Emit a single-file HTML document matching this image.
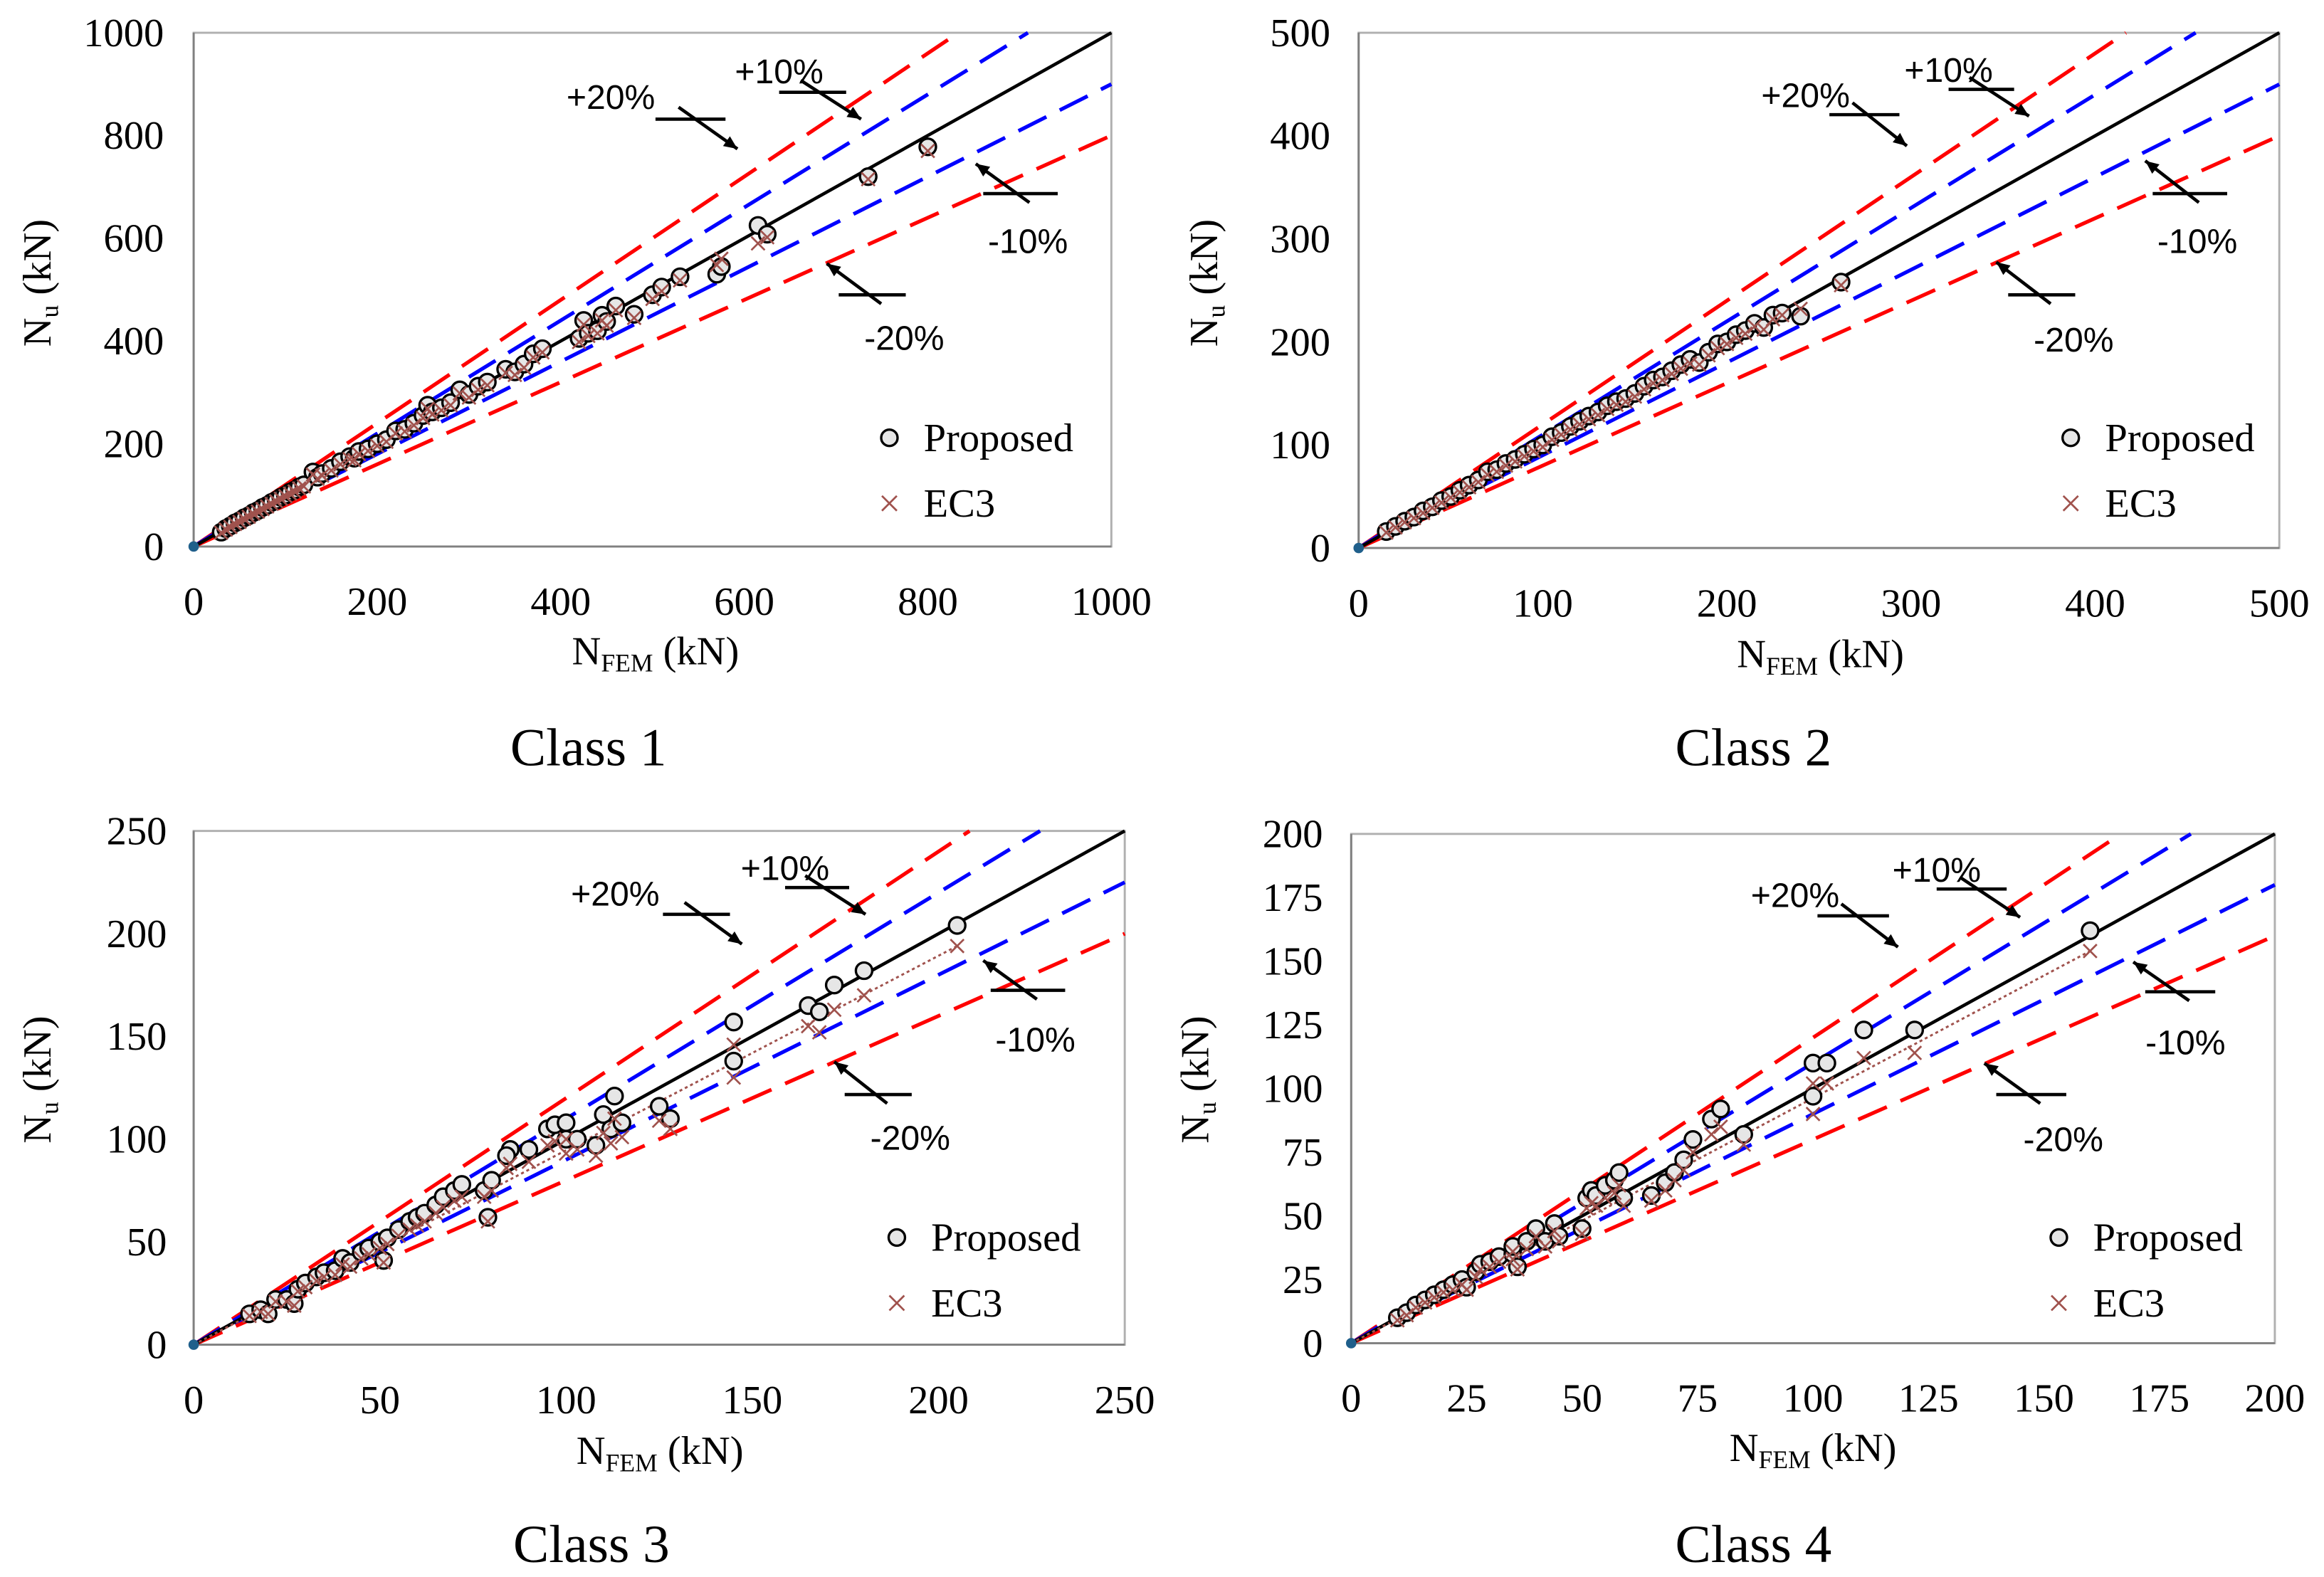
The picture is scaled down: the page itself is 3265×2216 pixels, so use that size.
<!DOCTYPE html>
<html><head><meta charset="utf-8"><style>
html,body{margin:0;padding:0;background:#fff;}
svg{display:block;}
</style></head><body>
<svg id="fig" xmlns="http://www.w3.org/2000/svg" width="3265" height="2216" viewBox="0 0 1560 1059" preserveAspectRatio="none">
<rect x="0" y="0" width="1560" height="1059" fill="#fff"/>
</svg>
<script>
// ---------- DATA ----------
const p1Ticks = [0,200,400,600,800,1000];
const p1Fem  = [30,35,40,45,50,55,60,65,70,75,80,85,90,95,100,105,110,115,120,130,135,140,150,160,170,175,180,190,200,210,220,230,240,250,255,260,270,280,290,300,310,320,340,350,360,370,380,420,425,430,440,445,450,460,480,500,510,530,570,575,615,625,735,800];
const p1Prop = [28,35,40,46,50,56,60,66,70,76,80,86,90,96,100,106,110,116,120,145,135,142,152,165,175,172,185,190,200,208,225,228,240,255,275,262,270,280,305,296,312,320,345,340,355,375,385,405,440,415,420,450,438,468,452,490,505,525,530,545,625,608,720,778];
const p1Ec3  = [27,33,38,44,48,54,58,64,68,73,78,83,88,93,98,103,107,113,117,140,132,138,148,160,170,168,180,186,196,204,220,224,236,250,268,257,265,275,298,290,305,314,338,334,348,368,378,398,432,410,415,440,430,460,445,482,497,518,548,560,590,602,715,770];

const p2Ticks = [0,100,200,300,400,500];
const p2Fem  = [15,20,25,30,35,40,45,50,55,60,65,70,75,80,85,90,95,100,105,110,115,120,125,130,135,140,145,150,155,160,165,170,175,180,185,190,195,200,205,210,215,220,225,230,240,262];
const p2Prop = [16,21,26,30,36,40,46,50,56,61,66,74,76,82,86,91,96,100,108,112,118,123,128,132,138,142,145,150,157,163,166,172,178,183,180,190,198,200,207,211,218,214,226,228,225,258];
const p2Ec3  = [15,20,25,29,34,39,44,49,54,59,64,71,74,80,84,89,94,98,105,110,115,120,125,129,135,139,142,147,154,160,163,169,174,179,178,187,194,198,204,208,215,212,222,226,232,255];

const p3Ticks = [0,50,100,150,200,250];
const p3Fem  = [15,18,20,22,25,27,28,30,33,35,38,40,42,45,47,50,51,52,55,58,60,62,65,67,70,72,78,80,79,85,84,90,95,97,100,100,103,108,110,112,113,115,125,128,145,145,165,168,172,180,205];
const p3Prop = [15,17,15,22,22,20,27,30,33,35,36,42,40,45,47,50,41,52,56,60,62,64,68,72,75,78,75,80,62,95,92,95,105,107,100,108,100,97,112,105,121,108,116,110,157,138,165,162,175,182,204];
const p3Ec3  = [14,16,15,21,21,19,26,28,31,33,34,39,38,42,44,47,40,49,53,56,58,60,64,67,70,72,72,75,60,88,86,89,97,99,93,100,95,92,103,98,110,101,109,105,146,130,155,152,163,170,194];

const p4Ticks = [0,25,50,75,100,125,150,175,200];
const p4Fem  = [10,12,14,16,18,20,22,24,25,27,28,30,32,35,35,36,38,40,42,44,45,50,51,52,53,55,57,58,59,65,68,70,72,74,78,80,85,100,100,103,111,122,160];
const p4Prop = [10,12,15,17,19,21,23,25,22,28,31,32,34,35,38,30,40,45,40,47,42,45,57,60,58,62,64,67,57,58,63,67,72,80,88,92,82,97,110,110,123,123,162];
const p4Ec3  = [9,11,14,16,18,20,21,23,21,26,29,30,32,33,36,29,37,42,38,44,40,43,53,55,54,57,59,62,54,56,60,64,68,75,82,85,78,90,102,102,112,114,154];

// ---------- RENDER ----------
const NS = "http://www.w3.org/2000/svg";
const svg = document.getElementById('fig');
function mk(tag, attrs, parent){ const e=document.createElementNS(NS,tag); for(const k in attrs) e.setAttribute(k,attrs[k]); (parent||svg).appendChild(e); return e; }

const panels = [
 {id:'class-1', x0:130, x1:746, yb:367, yt:22, max:1000, ticks:p1Ticks, fem:p1Fem, prop:p1Prop, ec3:p1Ec3, trend:false,
  ylabX:110, xlabY:413, ytitle:[25,190], xtitle:[440,446], cls:[395,514], leg:[597,294],
  ann:[['+20%',410,73,440,487,80,495,100],['+10%',523,56,523,568,62,578,80],['-10%',690,170,660,710,130,655,110],['-20%',607,235,563,608,198,555,177]]},
 {id:'class-2', x0:912, x1:1530, yb:368, yt:22, max:500, ticks:p2Ticks, fem:p2Fem, prop:p2Prop, ec3:p2Ec3, trend:false,
  ylabX:893, xlabY:414, ytitle:[808,190], xtitle:[1222,448], cls:[1177,514], leg:[1390,294],
  ann:[['+20%',1212,72,1228,1275,77,1280,98],['+10%',1308,55,1308,1352,60,1362,78],['-10%',1475,170,1445,1495,130,1440,108],['-20%',1392,236,1348,1393,198,1340,176]]},
 {id:'class-3', x0:130, x1:755, yb:903, yt:558, max:250, ticks:p3Ticks, fem:p3Fem, prop:p3Prop, ec3:p3Ec3, trend:true,
  ylabX:112, xlabY:949, ytitle:[25,725], xtitle:[443,983], cls:[397,1049], leg:[602,831],
  ann:[['+20%',413,608,445,490,614,498,634],['+10%',527,591,527,570,596,581,614],['-10%',695,706,665,715,665,660,645],['-20%',611,772,567,612,735,560,713]]},
 {id:'class-4', x0:907, x1:1527, yb:902, yt:560, max:200, ticks:p4Ticks, fem:p4Fem, prop:p4Prop, ec3:p4Ec3, trend:true,
  ylabX:888, xlabY:948, ytitle:[802,725], xtitle:[1217,981], cls:[1177,1049], leg:[1382,831],
  ann:[['+20%',1205,609,1220,1268,615,1274,636],['+10%',1300,592,1300,1347,597,1356,616],['-10%',1467,708,1440,1487,666,1432,646],['-20%',1385,773,1340,1387,735,1332,714]]}
];

const SERIF = '"Liberation Serif", serif';
const SANS = '"Liberation Sans", sans-serif';

panels.forEach(p=>{
  const g = mk('g',{});
  
  
  const sx = v => p.x0 + (v/p.max)*(p.x1-p.x0);
  const sy = v => p.yb - (v/p.max)*(p.yb-p.yt);

  const fr = mk('rect',{x:p.x0,y:p.yt,width:p.x1-p.x0,height:p.yb-p.yt,fill:'none',stroke:'#b0b0b0','stroke-width':1.4},g);
   
  const ya = mk('line',{x1:p.x0,y1:p.yt,x2:p.x0,y2:p.yb,stroke:'#808080','stroke-width':1.4},g);
   
  const xa = mk('line',{x1:p.x0,y1:p.yb,x2:p.x1,y2:p.yb,stroke:'#808080','stroke-width':1.4},g);
   

  p.ticks.forEach(t=>{
    const a = mk('text',{x:p.ylabX,y:sy(t)+9,'text-anchor':'end','font-family':SERIF,'font-size':27,fill:'#000'},g);
    a.textContent = t;
     
    const b = mk('text',{x:sx(t),y:p.xlabY,'text-anchor':'middle','font-family':SERIF,'font-size':27,fill:'#000'},g);
    b.textContent = t;
     
  });

  const refs = [[1.2,'#ff0000',true,'plus-20-line'],[1.1,'#0000ff',true,'plus-10-line'],[0.9,'#0000ff',true,'minus-10-line'],[0.8,'#ff0000',true,'minus-20-line'],[1.0,'#000',false,'equality-line']];
  refs.forEach(r=>{
    const xe = Math.min(p.max, p.max/r[0]);
    const l = mk('line',{x1:sx(0),y1:sy(0),x2:sx(xe),y2:sy(xe*r[0]),stroke:r[1],'stroke-width':r[2]?2.5:2.2},g);
    if(r[2]) l.setAttribute('stroke-dasharray','21 10');
     
  });

  if(p.trend){
    const lastI = p.fem.length-1;
    const tl = mk('line',{x1:sx(0),y1:sy(0),x2:sx(p.fem[lastI]),y2:sy(p.ec3[lastI]),stroke:'#a0524d','stroke-width':1.4,'stroke-dasharray':'2 2'},g);
     
  }

  p.fem.forEach((f,i)=>{
    const c = mk('circle',{cx:sx(f),cy:sy(p.prop[i]),r:5.5,fill:'#e6e6e6',stroke:'#000','stroke-width':1.6},g);
     
  });
  p.fem.forEach((f,i)=>{
    const x=sx(f), y=sy(p.ec3[i]), s=4.5;
    const e = mk('path',{d:`M${x-s},${y-s}L${x+s},${y+s}M${x-s},${y+s}L${x+s},${y-s}`,stroke:'#a0524d','stroke-width':1.3,fill:'none'},g);
     
  });
  const od = mk('circle',{cx:sx(0),cy:sy(0),r:3.5,fill:'#1f5f8b'},g);
   

  p.ann.forEach(a=>{
    const t = mk('text',{x:a[1],y:a[2],'text-anchor':'middle','font-family':SANS,'font-size':23,fill:'#000'},g);
    t.textContent = a[0];
     
    const hl = mk('line',{x1:a[3],y1:a[5],x2:a[4],y2:a[5],stroke:'#000','stroke-width':2.2},g);
     
    const up = a[0].charAt(0)==='-';
    const sx0 = up ? (a[3]+a[4])/2+6 : (a[3]+a[4])/2-8;
    const sy0 = up ? a[5]+6 : a[5]-8;
    const ex=a[6], ey=a[7];
    const ar = mk('line',{x1:sx0,y1:sy0,x2:ex,y2:ey,stroke:'#000','stroke-width':2.2},g);
     
    const ang = Math.atan2(ey-sy0, ex-sx0), L=9, W=4;
    const bx = ex - L*Math.cos(ang), by = ey - L*Math.sin(ang);
    const hd = mk('polygon',{points:`${ex},${ey} ${bx+W*Math.sin(ang)},${by-W*Math.cos(ang)} ${bx-W*Math.sin(ang)},${by+W*Math.cos(ang)}`,fill:'#000'},g);
     
  });

  const lg = mk('g',{},g);
   
  const lc = mk('circle',{cx:p.leg[0],cy:p.leg[1],r:5.5,fill:'#e6e6e6',stroke:'#000','stroke-width':1.6},lg);
   
  const lt1 = mk('text',{x:p.leg[0]+23,y:p.leg[1]+9,'font-family':SERIF,'font-size':27,fill:'#000'},lg);
  lt1.textContent='Proposed';
   
  const lx=p.leg[0], ly=p.leg[1]+44, s=5;
  const lm = mk('path',{d:`M${lx-s},${ly-s}L${lx+s},${ly+s}M${lx-s},${ly+s}L${lx+s},${ly-s}`,stroke:'#a0524d','stroke-width':1.3},lg);
   
  const lt2 = mk('text',{x:p.leg[0]+23,y:ly+9,'font-family':SERIF,'font-size':27,fill:'#000'},lg);
  lt2.textContent='EC3';
   

  const yt = mk('text',{x:0,y:0,'text-anchor':'middle','font-family':SERIF,'font-size':27,fill:'#000',transform:`translate(${p.ytitle[0]+9},${p.ytitle[1]}) rotate(-90)`},g);
  yt.innerHTML = 'N<tspan font-size="17" dy="5">u</tspan><tspan dy="-5"> (kN)</tspan>';
   
  const xt = mk('text',{x:p.xtitle[0],y:p.xtitle[1],'text-anchor':'middle','font-family':SERIF,'font-size':27,fill:'#000'},g);
  xt.innerHTML = 'N<tspan font-size="17" dy="5">FEM</tspan><tspan dy="-5"> (kN)</tspan>';
   
  const ct = mk('text',{x:p.cls[0],y:p.cls[1],'text-anchor':'middle','font-family':SERIF,'font-size':36,fill:'#000'},g);
  ct.textContent = 'Class ' + p.id.split('-')[1];
   
});
</script>
</body></html>
